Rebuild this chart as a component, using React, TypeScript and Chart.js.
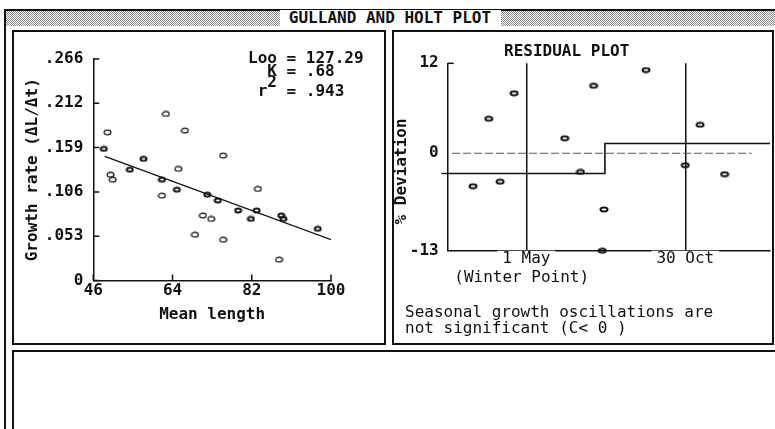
import React, { useEffect, useRef } from "react";
import { Chart, registerables } from "chart.js";

Chart.register(...registerables);

// ---------- Left panel: Gulland & Holt regression ----------
const lengthTicks = [46, 64, 82, 100];
const rateTicks = [0, 0.0532, 0.1064, 0.1596, 0.2128, 0.266];
const rateTickLabels = ["0", ".053", ".106", ".159", ".212", ".266"];

// points used in the fit (heavy markers)
const usedLength = [48.4, 54.3, 57.4, 61.6, 65.0, 71.9, 74.3, 78.9, 81.8, 83.1, 88.7, 89.2, 97.0];
const usedRate = [0.158, 0.133, 0.146, 0.121, 0.109, 0.103, 0.096, 0.084, 0.074, 0.084, 0.078, 0.074, 0.062];
// other points (light markers)
const otherLength = [49.2, 49.9, 50.4, 61.6, 62.5, 65.3, 66.8, 69.1, 70.9, 72.8, 75.5, 75.5, 83.4, 88.2];
const otherRate = [0.178, 0.127, 0.121, 0.102, 0.2, 0.134, 0.18, 0.055, 0.078, 0.074, 0.15, 0.049, 0.11, 0.025];
// regression line
const fitLength = [48.6, 100];
const fitRate = [0.149, 0.049];

// ---------- Right panel: residual plot ----------
const residualDay = [60, 78, 91, 107, 165, 183, 198, 210, 208, 258, 303, 320, 348];
const residualDev = [-4.4, 4.6, -3.8, 8.0, 2.0, -2.5, 9.0, -7.5, -13.0, 11.1, -1.6, 3.8, -2.8];
const stepDay = [24, 211, 211, 400];
const stepDev = [-2.7, -2.7, 1.3, 1.3];
const zeroDay = [36, 379];
const zeroDev = [0, 0];
const devTicks = [-13, 0, 12];
const seasonDays = [121, 303];
const seasonLabels = ["1 May", "30 Oct"];

const INK = "#111111";
const MONO = '"DejaVu Sans Mono", monospace';
const boldFont = { family: MONO, size: 16, weight: "bold" as const };
const normFont = { family: MONO, size: 16, weight: "normal" as const };

function ring(w: number, h: number, lw: number) {
  const c = document.createElement("canvas");
  c.width = w;
  c.height = h;
  const g = c.getContext("2d")!;
  g.strokeStyle = INK;
  g.lineWidth = lw;
  g.beginPath();
  g.ellipse(w / 2, h / 2, w / 2 - lw / 2 - 0.5, h / 2 - lw / 2 - 0.5, 0, 0, Math.PI * 2);
  g.stroke();
  return c;
}

function inwardTicks(xVals: number[], yVals: number[], len: number) {
  return {
    id: "inwardTicks",
    afterDraw(chart: any) {
      const { ctx, chartArea, scales } = chart;
      ctx.save();
      ctx.strokeStyle = INK;
      ctx.lineWidth = 1.5;
      ctx.beginPath();
      for (const v of yVals) {
        const py = scales.y.getPixelForValue(v);
        ctx.moveTo(chartArea.left, py);
        ctx.lineTo(chartArea.left + len, py);
      }
      for (const v of xVals) {
        const px = scales.x.getPixelForValue(v);
        ctx.moveTo(px, chartArea.bottom);
        ctx.lineTo(px, chartArea.bottom - len);
      }
      ctx.stroke();
      ctx.restore();
    },
  };
}

const abs = (l: number, t: number, extra: React.CSSProperties = {}): React.CSSProperties => ({
  position: "absolute",
  left: l,
  top: t,
  ...extra,
});

export default function App() {
  const leftRef = useRef<HTMLCanvasElement>(null);
  const rightRef = useRef<HTMLCanvasElement>(null);

  useEffect(() => {
    const heavy = ring(9, 7, 2);
    const light = ring(9, 7, 1.2);
    const resMark = ring(10, 7, 2);

    const left = new Chart(leftRef.current!, {
      type: "scatter",
      data: {
        datasets: [
          {
            type: "line",
            data: fitLength.map((x, i) => ({ x, y: fitRate[i] })),
            borderColor: INK,
            borderWidth: 1.3,
            pointRadius: 0,
            fill: false,
          } as any,
          {
            data: usedLength.map((x, i) => ({ x, y: usedRate[i] })),
            pointStyle: heavy,
            pointRadius: 4,
          },
          {
            data: otherLength.map((x, i) => ({ x, y: otherRate[i] })),
            pointStyle: light,
            pointRadius: 4,
          },
        ],
      },
      options: {
        animation: false,
        responsive: false,
        events: [],
        plugins: { legend: { display: false }, tooltip: { enabled: false } },
        layout: { padding: { top: 26, right: 52, left: 0, bottom: 0 } },
        scales: {
          x: {
            type: "linear",
            min: 46,
            max: 100,
            afterBuildTicks: (s: any) => {
              s.ticks = lengthTicks.map((value) => ({ value }));
            },
            afterFit: (s: any) => {
              s.height = 61.5;
            },
            ticks: { font: boldFont, color: INK, padding: 1, callback: (v: any) => String(v) },
            grid: { display: false, drawTicks: false },
            border: { display: true, color: INK, width: 1.5 },
            title: {
              display: true,
              text: "Mean length",
              font: boldFont,
              color: INK,
              padding: { top: 0, bottom: 17.4 },
            },
          },
          y: {
            type: "linear",
            min: 0,
            max: 0.266,
            afterBuildTicks: (s: any) => {
              s.ticks = rateTicks.map((value) => ({ value }));
            },
            afterFit: (s: any) => {
              s.width = 78.3;
            },
            ticks: {
              font: boldFont,
              color: INK,
              padding: 10,
              callback: (v: any) => rateTickLabels[rateTicks.indexOf(v)],
            },
            grid: { display: false, drawTicks: false },
            border: { display: true, color: INK, width: 1.5 },
            title: {
              display: true,
              text: "Growth rate (ΔL/Δt)",
              font: boldFont,
              color: INK,
              padding: { top: 8.4, bottom: 0 },
            },
          },
        },
      },
      plugins: [inwardTicks(lengthTicks, rateTicks, 6)],
    });

    const right = new Chart(rightRef.current!, {
      type: "scatter",
      data: {
        datasets: [
          {
            type: "line",
            data: zeroDay.map((x, i) => ({ x, y: zeroDev[i] })),
            borderColor: "#555",
            borderWidth: 1,
            borderDash: [8, 3],
            pointRadius: 0,
            fill: false,
          } as any,
          {
            type: "line",
            data: stepDay.map((x, i) => ({ x, y: stepDev[i] })),
            borderColor: INK,
            borderWidth: 1.6,
            pointRadius: 0,
            fill: false,
            clip: false,
          } as any,
          {
            data: residualDay.map((x, i) => ({ x, y: residualDev[i] })),
            pointStyle: resMark,
            pointRadius: 4,
            clip: false,
          } as any,
        ],
      },
      options: {
        animation: false,
        responsive: false,
        events: [],
        plugins: { legend: { display: false }, tooltip: { enabled: false } },
        layout: { padding: { top: 30.3, right: 3.3, left: 0, bottom: 0 } },
        scales: {
          x: {
            type: "linear",
            min: 31,
            max: 400,
            afterBuildTicks: (s: any) => {
              s.ticks = seasonDays.map((value) => ({ value }));
            },
            afterFit: (s: any) => {
              s.height = 91.3;
            },
            ticks: {
              font: normFont,
              color: INK,
              padding: -1,
              showLabelBackdrop: true,
              backdropColor: "#ffffff",
              backdropPadding: { left: 5, right: 5, top: 0, bottom: 0 },
              callback: (v: any) => seasonLabels[seasonDays.indexOf(v)],
            } as any,
            grid: { display: true, drawOnChartArea: true, drawTicks: false, color: INK, lineWidth: 1.5 },
            border: { display: true, color: INK, width: 1.5 },
          },
          y: {
            type: "linear",
            min: -13,
            max: 12,
            afterBuildTicks: (s: any) => {
              s.ticks = devTicks.map((value) => ({ value }));
            },
            afterFit: (s: any) => {
              s.width = 57.7;
            },
            ticks: { font: boldFont, color: INK, padding: 9, callback: (v: any) => String(v) },
            grid: { display: false, drawTicks: false },
            border: { display: true, color: INK, width: 1.5 },
            title: {
              display: true,
              text: "% Deviation   ",
              font: boldFont,
              color: INK,
              padding: { top: 2.1, bottom: 0 },
            },
          },
        },
      },
      plugins: [inwardTicks([], [12], 6)],
    });

    return () => {
      left.destroy();
      right.destroy();
    };
  }, []);

  const txt = (
    content: React.ReactNode,
    x: number,
    cy: number,
    opts: { bold?: boolean; center?: boolean; width?: number } = {}
  ) => {
    const w = opts.width ?? 400;
    return (
      <div
        style={abs(opts.center ? x - w / 2 : x, cy - 8, {
          width: w,
          textAlign: opts.center ? "center" : "left",
          fontFamily: MONO,
          fontSize: 16,
          lineHeight: "16px",
          fontWeight: opts.bold ? "bold" : "normal",
          whiteSpace: "pre",
          color: INK,
        })}
      >
        {content}
      </div>
    );
  };

  return (
    <div
      style={{
        position: "absolute",
        left: 0,
        top: 0,
        width: 775,
        height: 429,
        overflow: "hidden",
        background: "#ffffff",
      }}
    >
      {/* outer frame and halftone title band */}
      <div style={abs(4, 9, { width: 2, height: 420, background: INK })} />
      <div style={abs(4, 9, { width: 771, height: 1.5, background: INK })} />
      <div
        style={abs(6, 10.5, {
          width: 769,
          height: 15.5,
          background: "repeating-conic-gradient(#8a8a8a 0% 25%, #ffffff 0% 50%) 0 0 / 2px 2px",
        })}
      />
      <div style={abs(280, 10, { width: 221, height: 17, background: "#ffffff" })} />
      {txt("GULLAND AND HOLT PLOT", 390, 17.5, { bold: true, center: true })}

      {/* panels */}
      <div
        style={abs(12, 30, {
          width: 374,
          height: 315,
          border: `2px solid ${INK}`,
          boxSizing: "border-box",
        })}
      />
      <div
        style={abs(392, 30, {
          width: 382,
          height: 315,
          border: `2px solid ${INK}`,
          boxSizing: "border-box",
        })}
      />
      <div
        style={abs(12, 350, {
          width: 800,
          height: 120,
          border: `2px solid ${INK}`,
          boxSizing: "border-box",
        })}
      />

      {/* charts */}
      <canvas ref={leftRef} width={368} height={309} style={abs(15, 33, { width: 368, height: 309 })} />
      <canvas ref={rightRef} width={385} height={309} style={abs(390, 33, { width: 385, height: 309 })} />

      {/* left annotations */}
      {txt("Loo = 127.29", 248, 58.3, { bold: true })}
      {txt("  K = .68", 248, 70.7, { bold: true })}
      {txt(" r  = .943", 248, 91, { bold: true })}
      {txt("2", 267.3, 81.5, { bold: true, width: 10 })}

      {/* right annotations */}
      {txt("RESIDUAL PLOT", 566.7, 50.7, { bold: true, center: true, width: 200 })}
      {txt("(Winter Point)", 521.7, 276.7, { center: true, width: 200 })}
      {txt("Seasonal growth oscillations are", 405, 311.7)}
      {txt("not significant (C< 0 )", 405, 328.3)}
    </div>
  );
}
